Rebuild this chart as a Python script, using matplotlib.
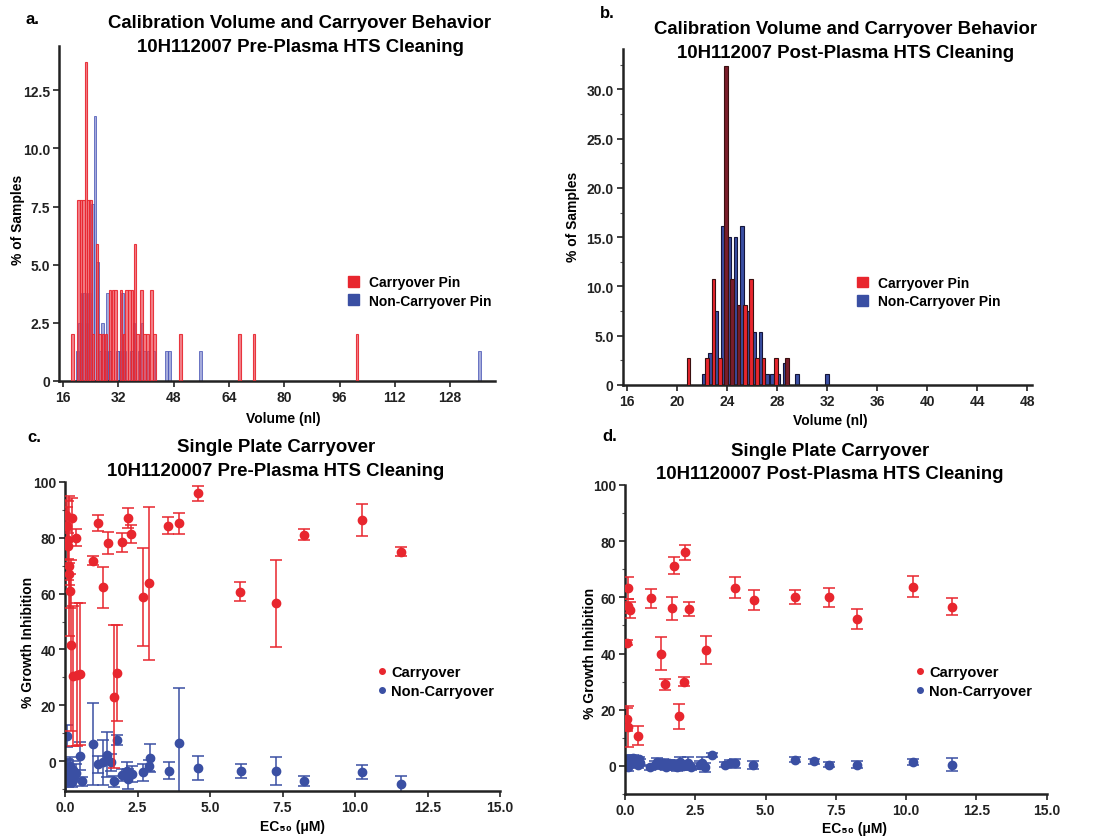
import matplotlib.pyplot as plt
import numpy as np
from matplotlib.patches import Patch
from matplotlib.lines import Line2D
from matplotlib.ticker import MultipleLocator, FuncFormatter

plt.rcParams['font.family'] = ['Liberation Sans', 'DejaVu Sans']
plt.rcParams['font.weight'] = 'bold'

# --- panel a: pre-plasma calibration volume (nl, % of samples)
pre_red_x = [18.7, 20.5, 21.2, 21.9, 22.6, 23.3, 24.0, 24.6, 25.8, 26.6, 27.5, 28.4, 29.6, 30.4, 31.1,
             32.8, 33.6, 34.4, 35.2, 35.9, 36.8, 37.6, 38.7, 39.6, 40.5, 41.6, 42.5, 50.0, 67.0, 71.2, 101.0]
pre_red_pct = [2.0, 7.8, 7.8, 7.8, 13.7, 7.8, 7.8, 2.0, 5.9, 2.0, 2.0, 2.0, 3.9, 3.9, 3.9,
               3.9, 2.0, 3.9, 3.9, 3.9, 5.9, 2.0, 3.9, 2.0, 2.0, 3.9, 2.0, 2.0, 2.0, 2.0, 2.0]
pre_blue_x = [20.1, 20.8, 21.5, 22.2, 22.9, 23.6, 24.5, 25.2, 26.0, 26.7, 27.4, 28.1, 28.8, 29.5, 31.7,
              32.4, 33.1, 33.8, 35.8, 36.5, 37.9, 38.8, 39.5, 40.6, 42.3, 45.9, 46.7, 55.8, 136.5]
pre_blue_pct = [1.27, 2.5, 3.8, 3.8, 2.5, 3.8, 7.6, 11.4, 5.1, 1.27, 2.5, 1.27, 3.8, 1.27, 1.27,
                1.27, 3.8, 1.27, 1.27, 2.5, 1.27, 2.5, 1.27, 1.27, 1.27, 1.27, 1.27, 1.27, 1.27]

# --- panel b: post-plasma calibration volume
post_red_x = [20.9, 22.4, 22.9, 23.4, 23.9, 24.4, 24.9, 25.4, 25.9, 26.4, 26.9, 27.9, 28.8]
post_red_pct = [2.7, 2.7, 10.8, 2.7, 32.4, 10.8, 8.1, 8.1, 10.8, 2.7, 2.7, 2.7, 2.7]
post_blue_x = [22.1, 22.6, 23.1, 23.65, 24.15, 24.65, 25.15, 25.65, 26.15, 26.65, 27.2, 27.6, 28.1, 28.6, 29.6, 32.0]
post_blue_pct = [1.08, 3.2, 7.5, 16.1, 15.05, 15.05, 16.1, 7.5, 5.4, 5.4, 1.08, 1.08, 1.08, 2.2, 1.08, 1.08]

# --- panel c: pre-plasma single plate carryover (EC50 uM, % growth inhibition, error)
c_red_x = [0.04, 0.07, 0.09, 0.11, 0.13, 0.15, 0.17, 0.19, 0.25, 0.38, 0.29, 0.42, 0.52, 0.95, 1.15, 1.3,
           1.49, 1.69, 1.8, 1.98, 2.16, 2.28, 2.68, 2.9, 3.56, 3.93, 4.57, 6.03, 7.26, 8.24, 10.23, 11.6]
c_red_y = [88, 84, 79, 77, 70, 67, 61, 41.5, 87, 80, 30.5, 31, 31.2, 71.8, 85.2, 62.2,
           78.1, 23.1, 31.6, 78.3, 87, 81.3, 58.9, 63.6, 84.3, 85.1, 95.8, 60.7, 56.5, 81, 86.4, 75]
c_red_err = [5.5, 7, 14, 4.5, 25, 4, 6, 30.5, 7, 3, 25, 25.5, 25.5, 1.5, 3, 7.2,
             4, 25.5, 17, 3.3, 3.5, 3.3, 17.5, 27.5, 3, 3.7, 2.7, 3.5, 15.5, 2, 5.8, 1.5]
c_blue_x = [0.03, 0.06, 0.08, 0.1, 0.12, 0.15, 0.18, 0.2, 0.23, 0.27, 0.32, 0.38, 0.52, 0.6, 0.95, 1.15,
            1.3, 1.46, 1.57, 1.69, 1.8, 1.98, 2.13, 2.18, 2.3, 2.68, 2.9, 2.93, 3.59, 3.93, 4.57, 6.06,
            7.26, 8.24, 10.23, 11.6]
c_blue_y = [-5, 9, -2, -7, -3.5, -6, -1.5, -4.5, -7.5, -3, -5.5, -4, 1.8, -7.2, 6.2, -1,
            -0.4, 2.4, -0.4, -7.2, 7.6, -4.9, -3.3, -6.3, -4.5, -3.9, -1.5, 1.1, -3.3, 6.4, -2.4, -3.3,
            -3.3, -6.9, -3.9, -8.1]
c_blue_err = [6, 4, 3, 2, 4, 2, 3, 2, 1.5, 3, 2, 3, 5, 1.5, 14.8, 3,
              8, 8, 3, 2, 1.8, 2, 3, 3.5, 3, 3, 2, 5, 3, 20, 4.2, 2.5,
              5, 1.8, 2.5, 2.8]

# --- panel d: post-plasma single plate carryover
d_red_x = [0.12, 0.12, 0.17, 0.08, 0.08, 0.12, 0.46, 0.92, 1.27, 1.43, 1.66, 1.75, 1.93, 2.1, 2.13, 2.28,
           2.88, 3.91, 4.58, 6.05, 7.27, 8.25, 10.25, 11.64]
d_red_y = [63.3, 57.0, 55.5, 43.9, 16.6, 14.0, 10.7, 59.6, 40.0, 29.1, 56.2, 71.3, 17.6, 29.9, 76.0, 55.8,
           41.2, 63.5, 59.0, 60.0, 60.0, 52.3, 63.8, 56.7]
d_red_err = [3.8, 2.5, 3.0, 1.0, 4.0, 7.3, 3.4, 3.5, 6.0, 2.0, 4.1, 3.0, 4.5, 1.6, 2.6, 2.6,
             4.9, 3.7, 3.5, 2.5, 3.4, 3.5, 3.7, 2.9]
d_blue_x = [0.03, 0.06, 0.09, 0.12, 0.15, 0.18, 0.22, 0.26, 0.3, 0.35, 0.4, 0.45, 0.5, 0.55, 0.9, 1.05,
            1.15, 1.25, 1.35, 1.45, 1.55, 1.65, 1.75, 1.85, 1.95, 2.05, 2.15, 2.25, 2.35, 2.65, 2.75, 2.85,
            3.08, 3.55, 3.75, 3.9, 4.57, 6.05, 6.72, 7.27, 8.25, 10.25, 11.64]
d_blue_y = [0.5, 2.0, -0.5, 1.5, 2.5, 0.8, 2.2, 1.0, 2.8, 1.5, 2.0, 0.5, 2.3, 1.2, -0.5, 0.5,
            1.5, 0.3, 1.0, -0.3, 1.2, 0.2, 0.8, -0.5, 1.5, -0.2, 0.5, 1.2, -0.3, 0.3, 1.0, -0.5,
            3.8, 0.5, 1.0, 0.9, 0.4, 2.2, 1.6, 0.5, 0.5, 1.4, 0.5]
d_blue_err = [1.5, 1.5, 1.2, 1.5, 1.5, 1.2, 1.5, 1.2, 1.0, 1.2, 1.0, 1.2, 1.0, 1.2, 1.0, 1.2,
              1.2, 1.0, 1.5, 1.2, 1.0, 1.5, 1.2, 1.2, 1.5, 1.2, 1.2, 2.0, 1.2, 1.5, 2.0, 1.5,
              0.8, 1.0, 1.2, 1.5, 1.5, 0.8, 0.8, 0.8, 1.2, 1.0, 2.2]

RED = '#e8262e'
BLUE = '#3a4fa3'
MAROON = '#7a1d2b'

W, H = 1095, 837
fig = plt.figure(figsize=(W / 100, H / 100), dpi=100)


def px(x, y):
    return x / W, 1 - y / H


def style(ax):
    for s in ['top', 'right']:
        ax.spines[s].set_visible(False)
    for s in ['left', 'bottom']:
        ax.spines[s].set_linewidth(1.8)
        ax.spines[s].set_color('#222222')
    ax.tick_params(which='major', length=4, width=1.2, labelsize=10, colors='#222222', pad=2.5)
    ax.tick_params(which='minor', length=2, width=0.8, colors='#555555')


def two_line(x, y1, y2, l1, l2, size=13.4):
    fig.text(*px(x, y1), l1, ha='center', va='center', fontsize=size, fontweight='bold')
    fig.text(*px(x, y2), l2, ha='center', va='center', fontsize=size, fontweight='bold')


# ---------------- panel a
ax = fig.add_axes([59 / W, 1 - 382 / H, 436 / W, 335 / H])
ax.bar(pre_blue_x, pre_blue_pct, width=0.75, color=(0.30, 0.35, 0.72, 0.5),
       edgecolor=(0.30, 0.35, 0.72, 0.8), linewidth=0.7, zorder=2)
ax.bar(pre_red_x, pre_red_pct, width=0.75, color=(0.93, 0.25, 0.30, 0.65),
       edgecolor=(0.91, 0.15, 0.18, 0.9), linewidth=0.8, zorder=3)
ax.set_xlim(14.8, 141)
ax.set_ylim(0, 14.4)
ax.set_xticks(np.arange(16, 129, 16))
ax.set_yticks(np.arange(0, 12.6, 2.5))
ax.yaxis.set_major_formatter(FuncFormatter(lambda v, p: '0' if v == 0 else f'{v:.1f}'))
style(ax)
fig.text(*px(18, 220), '% of Samples', rotation=90, ha='center', va='center', fontsize=10)
fig.text(*px(283, 419), 'Volume (nl)', ha='center', va='center', fontsize=10)
two_line(300, 23, 47, 'Calibration Volume and Carryover Behavior', '10H112007 Pre-Plasma HTS Cleaning')
fig.text(*px(32, 20), 'a.', ha='center', va='center', fontsize=12)
fig.legend(handles=[Patch(color=RED, label='Carryover Pin'), Patch(color=BLUE, label='Non-Carryover Pin')],
           loc='center left', bbox_to_anchor=px(348, 292.5), frameon=False, fontsize=10,
           handlelength=0.8, handleheight=0.8, handletextpad=0.7, labelspacing=0.3, borderpad=0,
           borderaxespad=0)

# ---------------- panel b
ax = fig.add_axes([622.7 / W, 1 - 386 / H, 409 / W, 336 / H])
ax.bar(post_blue_x, post_blue_pct, width=0.3, color=BLUE, edgecolor='#15153a', linewidth=0.8, zorder=2)
red_cols = [MAROON if (23.6 < v < 25.2 or v > 28.5) else RED for v in post_red_x]
ax.bar(post_red_x, post_red_pct, width=0.3, color=red_cols, edgecolor='#3a1010', linewidth=0.8, zorder=3)
ax.set_xlim(15.63, 48.35)
ax.set_ylim(0, 34.1)
ax.set_xticks(np.arange(16, 49, 4))
ax.set_yticks(np.arange(0, 31, 5))
ax.yaxis.set_minor_locator(MultipleLocator(2.5))
ax.yaxis.set_major_formatter(FuncFormatter(lambda v, p: '0' if v == 0 else f'{v:.1f}'))
style(ax)
fig.text(*px(573, 217), '% of Samples', rotation=90, ha='center', va='center', fontsize=10)
fig.text(*px(830, 421), 'Volume (nl)', ha='center', va='center', fontsize=10)
two_line(846, 30, 53, 'Calibration Volume and Carryover Behavior', '10H112007 Post-Plasma HTS Cleaning')
fig.text(*px(607, 14), 'b.', ha='center', va='center', fontsize=12)
fig.legend(handles=[Patch(color=RED, label='Carryover Pin'), Patch(color=BLUE, label='Non-Carryover Pin')],
           loc='center left', bbox_to_anchor=px(857, 293), frameon=False, fontsize=10,
           handlelength=0.8, handleheight=0.8, handletextpad=0.7, labelspacing=0.3, borderpad=0,
           borderaxespad=0)


def scatter_panel(rect, ylo, rx, ry, re, bx, by, be):
    ax = fig.add_axes(rect)
    ax.errorbar(bx, by, yerr=be, fmt='o', color=BLUE, ms=6, elinewidth=1.1, capsize=4, capthick=1.1, zorder=2)
    ax.errorbar(rx, ry, yerr=re, fmt='o', color=RED, ms=6, elinewidth=1.1, capsize=4, capthick=1.1, zorder=3)
    ax.set_xlim(0, 15.0)
    ax.set_ylim(ylo, 100)
    ax.set_xticks(np.arange(0, 15.1, 2.5))
    ax.xaxis.set_major_formatter(FuncFormatter(lambda v, p: f'{v:.1f}'))
    ax.set_yticks(np.arange(0, 101, 20))
    ax.yaxis.set_minor_locator(MultipleLocator(10))
    style(ax)
    return ax


def dot_legend(x, y):
    h = [Line2D([], [], marker='o', ls='none', color=RED, ms=4, label='Carryover'),
         Line2D([], [], marker='o', ls='none', color=BLUE, ms=4, label='Non-Carryover')]
    fig.legend(handles=h, loc='center left', bbox_to_anchor=px(x, y), frameon=False, fontsize=10.5,
               handlelength=0.6, handletextpad=0.3, labelspacing=0.3, borderpad=0, borderaxespad=0)


# ---------------- panel c
scatter_panel([65 / W, 1 - 791.7 / H, 435 / W, 309 / H], -10.5,
              c_red_x, c_red_y, c_red_err, c_blue_x, c_blue_y, c_blue_err)
fig.text(*px(28, 642), '% Growth Inhibition', rotation=90, ha='center', va='center', fontsize=10)
fig.text(*px(292, 827), 'EC₅₀ (μM)', ha='center', va='center', fontsize=10)
two_line(276, 448, 472, 'Single Plate Carryover', '10H1120007 Pre-Plasma HTS Cleaning')
fig.text(*px(34, 438), 'c.', ha='center', va='center', fontsize=12)
dot_legend(378, 682.5)

# ---------------- panel d
scatter_panel([625 / W, 1 - 795 / H, 421.7 / W, 309 / H], -10,
              d_red_x, d_red_y, d_red_err, d_blue_x, d_blue_y, d_blue_err)
fig.text(*px(590, 653), '% Growth Inhibition', rotation=90, ha='center', va='center', fontsize=10)
fig.text(*px(855, 829), 'EC₅₀ (μM)', ha='center', va='center', fontsize=10)
two_line(830, 452, 475, 'Single Plate Carryover', '10H1120007 Post-Plasma HTS Cleaning')
fig.text(*px(610, 437), 'd.', ha='center', va='center', fontsize=12)
dot_legend(916, 682.5)

fig.savefig('out.png', dpi=100)
